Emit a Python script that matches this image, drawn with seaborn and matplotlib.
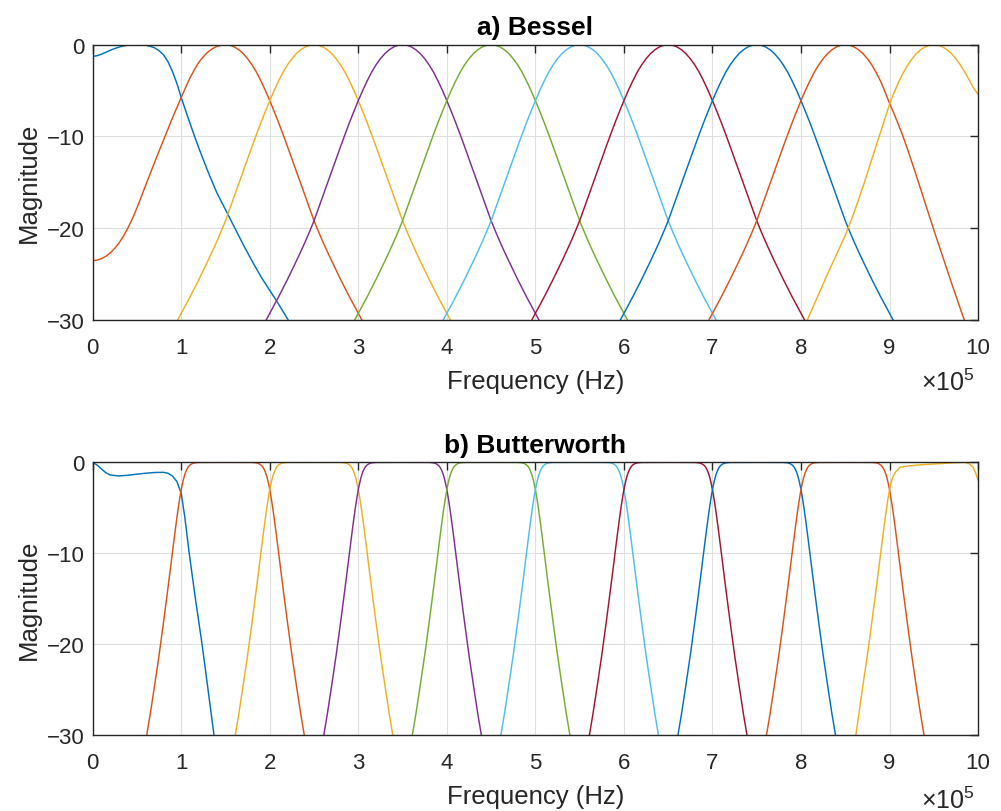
import numpy as np
import pandas as pd
import matplotlib
matplotlib.use("Agg")
import matplotlib.pyplot as plt
import seaborn as sns

# ---------------- data (frequency in units of 1e5 Hz, magnitude in dB) ----------------
band_colors = ["#0072BD", "#D95319", "#EDB120", "#7E2F8E", "#77AC30",
               "#4DBEEE", "#A2142F", "#0072BD", "#D95319", "#EDB120"]

# Bessel: shared shape of the inner bands (half profile, mirrored about the centre)
bessel_centers = [2.5, 3.5, 4.5, 5.5, 6.5, 7.5]
bessel_half_offset = [0.0, 0.05, 0.1, 0.15, 0.2, 0.25, 0.3, 0.35, 0.4, 0.45, 0.5, 0.55,
                      0.6, 0.65, 0.7, 0.75, 0.8, 0.85, 0.9, 0.95, 1.0, 1.05, 1.1, 1.15,
                      1.2, 1.25, 1.3, 1.35, 1.4, 1.45, 1.5, 1.55, 1.6, 1.65, 1.7]
bessel_half_db = [0.0, -0.06, -0.24, -0.55, -0.97, -1.53, -2.2, -3.0, -3.95, -4.98, -6.1,
                  -7.28, -8.5, -9.78, -11.1, -12.45, -13.8, -15.15, -16.5, -17.85, -19.2,
                  -20.38, -21.5, -22.57, -23.6, -24.6, -25.6, -26.55, -27.5, -28.4, -29.3,
                  -30.2, -31.1, -31.95, -32.8]

# Bessel band 1 (lowest band)
bessel_b1_freq = [0.0, 0.05, 0.1, 0.15, 0.2, 0.25, 0.3, 0.35, 0.4, 0.45, 0.5, 0.55, 0.6,
                  0.65, 0.7, 0.75, 0.8, 0.85, 0.9, 0.95, 1.0, 1.05, 1.1, 1.15, 1.2, 1.3,
                  1.4, 1.5, 1.6, 1.7, 1.8, 1.9, 2.0, 2.1, 2.2, 2.3]
bessel_b1_db = [-1.27, -1.2, -1.03, -0.82, -0.6, -0.41, -0.25, -0.13, -0.05, -0.01, 0.0,
                -0.01, -0.06, -0.17, -0.35, -0.65, -1.1, -1.85, -2.9, -4.2, -5.75, -7.2,
                -8.6, -9.98, -11.3, -13.8, -16.1, -18.0, -19.9, -21.8, -23.6, -25.3,
                -26.8, -28.3, -29.9, -31.4]

# Bessel band 2: own lower skirt (levels off near 0 Hz), upper skirt follows the shared shape
bessel_b2_low_freq = [0.0, 0.05, 0.1, 0.15, 0.2, 0.25, 0.3, 0.35, 0.4, 0.45, 0.5, 0.55,
                      0.6, 0.7, 0.8, 0.9, 1.0, 1.05, 1.1, 1.15, 1.2, 1.25, 1.3, 1.35,
                      1.4, 1.45, 1.5]
bessel_b2_low_db = [-23.56, -23.5, -23.33, -23.07, -22.7, -22.2, -21.6, -20.85, -19.95,
                    -18.95, -17.8, -16.55, -15.3, -12.8, -10.4, -8.0, -5.75, -4.65, -3.6,
                    -2.7, -1.9, -1.3, -0.8, -0.45, -0.2, -0.05, 0.0]
bessel_b2_center = 1.5

# Bessel band 9: lower skirt follows the shared shape, own upper skirt
bessel_b9_center = 8.5
bessel_b9_high_freq = [8.5, 8.55, 8.6, 8.65, 8.7, 8.75, 8.8, 8.85, 8.9, 8.95, 9.0, 9.05,
                       9.1, 9.15, 9.2, 9.3, 9.4, 9.5, 9.6, 9.7, 9.8, 9.9]
bessel_b9_high_db = [0.0, -0.06, -0.24, -0.55, -0.97, -1.53, -2.2, -3.05, -4.0, -5.15,
                     -6.4, -7.5, -8.7, -9.95, -11.3, -14.2, -17.2, -20.2, -23.1, -26.0,
                     -28.8, -31.6]

# Bessel band 10 (highest band)
bessel_b10_freq = [8.0, 8.1, 8.2, 8.3, 8.4, 8.5, 8.6, 8.7, 8.8, 8.9, 8.95, 9.0, 9.05, 9.1,
                   9.15, 9.2, 9.25, 9.3, 9.35, 9.4, 9.45, 9.5, 9.55, 9.6, 9.65, 9.7, 9.75,
                   9.8, 9.85, 9.9, 9.95, 10.0]
bessel_b10_db = [-31.6, -29.4, -27.2, -25.0, -22.9, -20.8, -18.3, -15.5, -12.5, -9.5, -8.0,
                 -6.5, -5.25, -4.15, -3.15, -2.3, -1.6, -1.0, -0.55, -0.25, -0.06, 0.0,
                 -0.06, -0.24, -0.55, -0.97, -1.53, -2.2, -2.98, -3.85, -4.75, -5.4]

# Butterworth: shared shape of the inner bands (half profile, mirrored about the centre)
butter_centers = [1.5, 2.5, 3.5, 4.5, 5.5, 6.5, 7.5, 8.5]
butter_half_offset = [0.0, 0.30, 0.35, 0.37, 0.38, 0.40, 0.41, 0.42, 0.43, 0.44, 0.45,
                      0.46, 0.47, 0.48, 0.49, 0.50, 0.51, 0.52, 0.53, 0.54, 0.55, 0.56,
                      0.57, 0.58, 0.59, 0.60, 0.63, 0.66, 0.70, 0.75, 0.80, 0.85, 0.90,
                      0.95]
butter_half_db = [0.0, -0.01, -0.06, -0.12, -0.16, -0.29, -0.38, -0.50, -0.66, -0.85,
                  -1.08, -1.36, -1.69, -2.08, -2.52, -3.01, -3.56, -4.15, -4.79, -5.46,
                  -6.17, -6.90, -7.65, -8.41, -9.18, -9.96, -12.3, -14.6, -17.6, -21.2,
                  -24.5, -27.7, -30.6, -33.4]

# Butterworth band 1 (lowest band)
butter_b1_freq = [0.0, 0.05, 0.1, 0.15, 0.2, 0.3, 0.4, 0.5, 0.6, 0.7, 0.8, 0.85, 0.9,
                  0.95, 1.0, 1.04, 1.09, 1.16, 1.235, 1.30, 1.37, 1.42]
butter_b1_db = [0.0, -0.3, -0.75, -1.15, -1.4, -1.5, -1.42, -1.3, -1.2, -1.12, -1.1, -1.2,
                -1.5, -2.1, -3.4, -6.0, -10.0, -15.0, -20.0, -24.8, -30.0, -33.5]

# Butterworth band 10 (highest band)
butter_b10_freq = [8.55, 8.62, 8.7, 8.75, 8.8, 8.84, 8.9, 8.94, 8.98, 9.0, 9.03, 9.064,
                   9.12, 9.2, 9.31, 9.5, 9.69, 9.85, 9.9, 9.94, 9.97, 10.0]
butter_b10_db = [-33.4, -30.0, -24.5, -21.2, -17.6, -14.6, -10.0, -6.9, -4.15, -3.0, -1.8,
                 -1.1, -0.55, -0.42, -0.3, -0.18, -0.07, 0.0, -0.15, -0.5, -1.1, -1.95]

x_ticks = [0, 1, 2, 3, 4, 5, 6, 7, 8, 9, 10]
y_ticks = [-30, -20, -10, 0]
titles = ["a) Bessel", "b) Butterworth"]
xlabel_text = "Frequency (Hz)"
ylabel_text = "Magnitude"
exponent_text = r"$\times\mathregular{10^{5}}$"


def mirrored(half_off, half_db):
    off = np.concatenate([-np.array(half_off[:0:-1]), np.array(half_off)])
    db = np.concatenate([np.array(half_db[:0:-1]), np.array(half_db)])
    return off, db


def frame_from(curves):
    rows = []
    for i, (f, m) in enumerate(curves):
        for fv, mv in zip(f, m):
            rows.append({"band": f"band{i + 1}", "freq": float(fv), "db": float(mv)})
    return pd.DataFrame(rows)


b_off, b_db = mirrored(bessel_half_offset, bessel_half_db)
half_o = np.array(bessel_half_offset)
half_d = np.array(bessel_half_db)

bessel_curves = [(bessel_b1_freq, bessel_b1_db)]
# band 2: own lower skirt + shared upper skirt
bessel_curves.append((np.concatenate([bessel_b2_low_freq, bessel_b2_center + half_o[1:]]),
                      np.concatenate([bessel_b2_low_db, half_d[1:]])))
for c in bessel_centers:
    bessel_curves.append((c + b_off, b_db))
# band 9: shared lower skirt + own upper skirt
bessel_curves.append((np.concatenate([bessel_b9_center - half_o[:0:-1], bessel_b9_high_freq]),
                      np.concatenate([half_d[:0:-1], bessel_b9_high_db])))
bessel_curves.append((bessel_b10_freq, bessel_b10_db))
bessel_df = frame_from(bessel_curves)

w_off, w_db = mirrored(butter_half_offset, butter_half_db)
butter_curves = [(butter_b1_freq, butter_b1_db)]
for c in butter_centers:
    butter_curves.append((c + w_off, w_db))
butter_curves.append((butter_b10_freq, butter_b10_db))
butter_df = frame_from(butter_curves)

# ---------------- plotting ----------------
sns.set_theme(style="white")
plt.rcParams["font.family"] = ["Liberation Sans", "DejaVu Sans"]
plt.rcParams["mathtext.fontset"] = "custom"
plt.rcParams["mathtext.rm"] = "Liberation Sans"
plt.rcParams["mathtext.it"] = "Liberation Sans:italic"
plt.rcParams["mathtext.bf"] = "Liberation Sans:bold"
plt.rcParams["axes.unicode_minus"] = True

dark = "#262626"
fig = plt.figure(figsize=(10.01, 8.12), dpi=100)
ax1 = fig.add_axes([0.0926, 0.6050, 0.8845, 0.3387])
ax2 = fig.add_axes([0.0926, 0.0936, 0.8845, 0.3358])

hue_order = [f"band{i + 1}" for i in range(10)]
palette = dict(zip(hue_order, band_colors))

for ax, df, title, exp_y in [(ax1, bessel_df, titles[0], -0.254),
                             (ax2, butter_df, titles[1], -0.266)]:
    sns.lineplot(data=df, x="freq", y="db", hue="band", hue_order=hue_order,
                 palette=palette, estimator=None, sort=False, legend=False,
                 linewidth=1.05, ax=ax)
    ax.set_xlim(0, 10)
    ax.set_ylim(-30, 0)
    ax.set_xticks(x_ticks)
    ax.set_yticks(y_ticks)
    ax.set_xticklabels([str(t) for t in x_ticks])
    ax.set_yticklabels([str(t).replace("-", "\u2212") for t in y_ticks])
    ax.set_axisbelow(True)
    ax.grid(True, color="#dfdfdf", linewidth=0.8)
    for s in ax.spines.values():
        s.set_visible(True)
        s.set_color(dark)
        s.set_linewidth(1.0)
    ax.tick_params(direction="in", length=5.5, width=1.0, colors=dark,
                   top=True, right=True, labelsize=16, labelcolor=dark)
    ax.tick_params(axis="x", pad=12.5)
    ax.tick_params(axis="y", pad=6)
    ax.set_title(title, fontsize=19, fontweight="bold", color="black", pad=7.5)
    ax.set_xlabel(xlabel_text, fontsize=18.5, color=dark, labelpad=8)
    ax.set_ylabel(ylabel_text, fontsize=18.5, color=dark, labelpad=4)
    ax.text(0.9966, exp_y, exponent_text, transform=ax.transAxes, ha="right",
            va="baseline", fontsize=18, color=dark)

fig.savefig("out.png", dpi=100)
